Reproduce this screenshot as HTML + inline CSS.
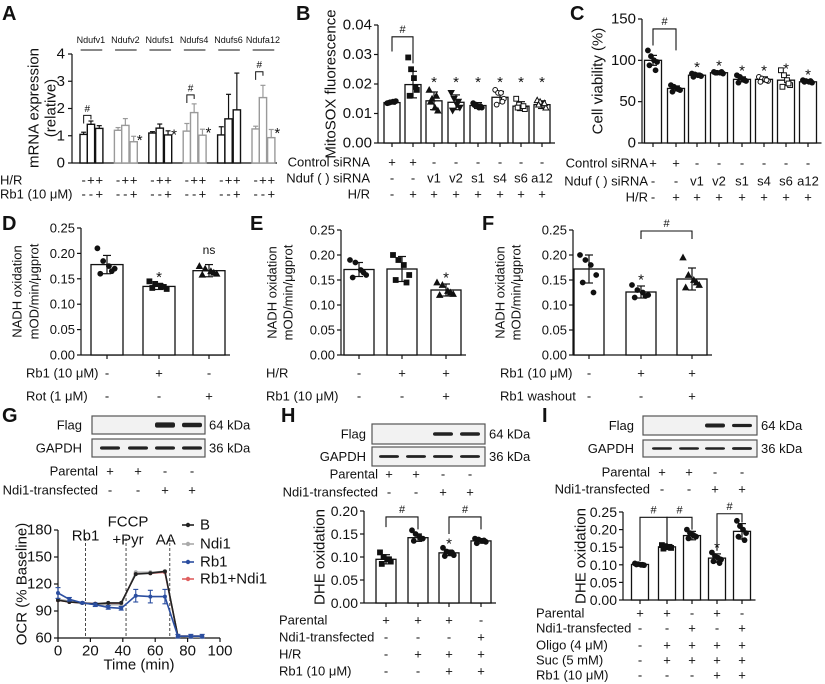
<!DOCTYPE html>
<html><head><meta charset="utf-8">
<style>
html,body{margin:0;padding:0;background:#fff;}
svg{display:block;font-family:"Liberation Sans",Arial,sans-serif;}
text{fill:#111;}
</style></head>
<body>
<svg id="fig" width="825" height="684" viewBox="0 0 825 684" xmlns="http://www.w3.org/2000/svg"></svg>
<script>
// ---------- DATA ----------
// Panel A
const aGenes = ['Ndufv1','Ndufv2','Ndufs1','Ndufs4','Ndufs6','Ndufa12'];
const aValues = [[1.05,1.42,1.27],[1.2,1.38,0.78],[1.1,1.28,1.03],[1.17,1.85,1.02],[1.03,1.62,1.95],[1.25,2.4,0.93]];
const aErrors = [[0.08,0.12,0.1],[0.1,0.25,0.2],[0.05,0.15,0.15],[0.28,0.32,0.22],[0.3,0.9,1.35],[0.1,0.45,0.3]];
const aTicks = [0,1,2,3,4];
const aHR = ['-','+','+'];
const aRb1 = ['-','-','+'];
// Panel B
const bCategories = ['ctrl','hr','v1','v2','s1','s4','s6','a12'];
const bValues = [0.0137,0.0198,0.0143,0.0138,0.0127,0.0155,0.0125,0.013];
const bErrors = [0.0005,0.0045,0.003,0.0025,0.001,0.002,0.0015,0.0013];
const bDots = [[.0135,.0138,.014,.0142,.0136,.0139],[.029,.025,.022,.018,.016,.019],[.018,.015,.012,.011,.014,.016],[.017,.015,.013,.012,.011,.014],[.0135,.013,.012,.012,.0128,.0125],[.018,.017,.017,.015,.013,.014],[.015,.013,.012,.0115,.012,.0125],[.0145,.014,.013,.012,.013,.0135]];
const bTicks = [0,0.01,0.02,0.03,0.04];
// Panel C
const cValues = [100,66,82,85,77,77,76,74];
const cErrors = [6,3,2,1,3,3,6,1];
const cDots = [[112,105,100,98,94,88],[70,68,66,64,62,65],[84,83,82,81,80,82],[86,85,85,84,85,86],[82,80,77,75,73,76],[80,78,77,75,74,76],[88,82,76,70,68,72],[76,75,74,73,74,75]];
const cTicks = [0,50,100,150];
// Panels D E F
const dValues = [0.178,0.135,0.166];
const dErrors = [0.018,0.006,0.012];
const dDots = [[0.21,0.185,0.175,0.17,0.16,0.165],[0.145,0.14,0.135,0.13,0.132,0.134],[0.175,0.17,0.165,0.16,0.158,0.162]];
const eValues = [0.171,0.172,0.130];
const eErrors = [0.014,0.025,0.012];
const eDots = [[0.19,0.185,0.17,0.16,0.155,0.165],[0.2,0.19,0.18,0.16,0.15,0.145],[0.145,0.14,0.128,0.122,0.12,0.125]];
const fValues = [0.172,0.126,0.152];
const fErrors = [0.028,0.012,0.022];
const fDots = [[0.2,0.19,0.18,0.16,0.145,0.125],[0.14,0.13,0.125,0.12,0.115,0.118],[0.195,0.16,0.15,0.14,0.135,0.145]];
const nadhTicks = [0,0.05,0.1,0.15,0.2,0.25];
// Panel H, I
const hValues = [0.095,0.142,0.109,0.135];
const hErrors = [0.01,0.008,0.006,0.005];
const hDots = [[0.11,0.1,0.095,0.09,0.085,0.095],[0.158,0.15,0.145,0.14,0.135,0.14],[0.12,0.112,0.108,0.104,0.102,0.11],[0.14,0.138,0.135,0.133,0.13,0.136]];
const hTicks = [0,0.05,0.1,0.15,0.2];
const iValues = [0.101,0.151,0.183,0.119,0.195];
const iErrors = [0.003,0.005,0.012,0.012,0.022];
const iDots = [[0.104,0.102,0.1,0.099,0.101,0.1],[0.156,0.153,0.15,0.148,0.146,0.151],[0.2,0.19,0.185,0.18,0.175,0.182],[0.135,0.125,0.12,0.115,0.11,0.105],[0.225,0.21,0.2,0.19,0.18,0.17]];
const iTicks = [0,0.05,0.1,0.15,0.2,0.25];
// Panel G OCR
const ocrTime = [0,7,15,23,31,39,48,57,66,74,82,89];
const ocrB = [102,100,99,98,99,99,131,132,134,62,62,62];
const ocrNdi1 = [103,101,99,97,97,97,133,133,134,62,61,61];
const ocrRb1 = [110,103,99,97,94,93,107,106,106,62,62,62];
const ocrRb1Ndi1 = [102,100,99,98,98,98,132,132,133,62,62,62];
const ocrRb1Err = [6,2,1,2,2,2,7,7,8,2,2,2];
const ocrXTicks = [0,20,40,60,80,100];
const ocrYTicks = [60,90,120,150,180];
const ocrEvents = [{t:17,label:'Rb1'},{t:42,label:'FCCP'},{t:69,label:'AA'}];

// ---------- HELPERS ----------
const NS='http://www.w3.org/2000/svg';
const svg=document.getElementById('fig');
function mk(tag, name, parent){
  const e=document.createElementNS(NS,tag);
  
  
  (parent||svg).appendChild(e);
  return e;
}
function setA(e,o){for(const k in o)e.setAttribute(k,o[k]);return e;}
function line(x1,y1,x2,y2,name,stroke,w,dash,parent){
  const l=mk('line',name,parent);
  setA(l,{x1,y1,x2,y2,stroke:stroke||'#111','stroke-width':w||1.2});
  if(dash)l.setAttribute('stroke-dasharray',dash);
  return l;
}
function txt(x,y,s,name,size,anchor,parent,extra){
  const t=mk('text',name,parent);
  setA(t,{x,y,'font-size':size||13,'text-anchor':anchor||'start','dominant-baseline':'central'});
  if(extra)setA(t,extra);
  t.textContent=s;return t;
}
function group(name){return mk('g',name);}
function marker(g,type,x,y,r){
  let e;
  const fill = type.startsWith('open')?'#fff':'#111';
  if(type.endsWith('circle')){e=mk('circle','data-dot',g);setA(e,{cx:x,cy:y,r:r});}
  else if(type.endsWith('square')){e=mk('rect','data-dot',g);setA(e,{x:x-r,y:y-r,width:2*r,height:2*r});}
  else if(type.endsWith('itri')){e=mk('polygon','data-dot',g);setA(e,{points:`${x-r-0.5},${y-r} ${x+r+0.5},${y-r} ${x},${y+r+0.5}`});}
  else {e=mk('polygon','data-dot',g);setA(e,{points:`${x-r-0.5},${y+r} ${x+r+0.5},${y+r} ${x},${y-r-0.5}`});}
  setA(e,{fill:fill,stroke:'#111','stroke-width':1});
}
const jitter=[-5,-2,1,4,-3.5,2.5];
function fmt(v,d){return v.toFixed(d);}

function barPanel(p){
  const g=group(p.name);
  const Y=v=>p.yBot-(v-p.vmin)/(p.vmax-p.vmin)*(p.yBot-p.yTop);
  line(p.ax,p.yTop,p.ax,p.yBot,'y-axis','#111',1.2,null,g);
  p.ticks.forEach(t=>{
    line(p.ax-4,Y(t),p.ax,Y(t),'y-tick','#111',1.2,null,g);
    txt(p.ax-6,Y(t),fmt(t,p.dec),'y-tick-label',p.tickFont,'end',g,p.tickStyle||null);
  });
  const last=p.centers[p.centers.length-1]+p.bw/2+5;
  line(p.ax,p.yBot,last,p.yBot,'x-axis','#111',1.2,null,g);
  p.ylabel.forEach((s,i)=>{
    const cy=(p.yTop+p.yBot)/2;
    txt(p.ylx[i],cy,s,'y-axis-title',p.yFont,'middle',g,{transform:`rotate(-90 ${p.ylx[i]} ${cy})`});
  });
  p.values.forEach((v,i)=>{
    const cx=p.centers[i];
    if(p.xTicks) line(cx,p.yBot,cx,p.yBot+4,'x-tick','#111',1.2,null,g);
    const r=mk('rect','bar-'+i,g);
    setA(r,{x:cx-p.bw/2,y:Y(v),width:p.bw,height:p.yBot-Y(v),fill:'#fff',stroke:'#111','stroke-width':1.3});
    const e=p.errs[i];
    line(cx,Y(v+e),cx,Y(v-e),'error-bar','#111',1.2,null,g);
    line(cx-4,Y(v+e),cx+4,Y(v+e),'error-cap','#111',1.2,null,g);
    line(cx-4,Y(v-e),cx+4,Y(v-e),'error-cap','#111',1.2,null,g);
    if(p.dots)p.dots[i].forEach((d,k)=>marker(g,p.markers[i],cx+jitter[k]*p.bw/30*1.8,Y(d),2.4));
    if(p.stars&&p.stars[i]){
      const sy=p.starAt!==undefined?Y(p.starAt):Y(v+e)-9;
      txt(cx,sy+3,'*','significance-star',p.starFont||15,'middle',g);
    }
  });
  (p.brackets||[]).forEach(b=>{
    const [i,j,lv,ld,rd]=b;
    const x1=p.centers[i],x2=p.centers[j];
    const pth=mk('path','significance-bracket',g);
    setA(pth,{d:`M${x1},${Y(ld)} V${Y(lv)} H${x2} V${Y(rd)}`,fill:'none',stroke:'#111','stroke-width':1.1});
    txt((x1+x2)/2,Y(lv)-7,'#','significance-hash',11,'middle',g);
  });
  (p.rows||[]).forEach(r=>{
    txt(p.rowX,r.y,r.label,'row-label',p.rowFont||13,p.rowAnchor||'end',g);
    r.marks.forEach((m,i)=>txt(p.centers[i],r.y,m,'row-mark',p.rowFont||13,'middle',g));
  });
  return g;
}
function panelLetter(x,y,s){txt(x,y,s,'panel-letter-'+s.toLowerCase(),20,'start',svg,{'font-weight':'bold'});}

// ---------- PANEL A ----------
(function(){
  const g=group('panel-a');
  const ax=72,yTop=54,yBot=163,vmax=4;
  const Y=v=>yBot-v/vmax*(yBot-yTop);
  line(ax,yTop,ax,yBot,'y-axis','#111',1.2,null,g);
  aTicks.forEach(t=>{line(ax-4,Y(t),ax,Y(t),'y-tick','#111',1.2,null,g);txt(ax-7,Y(t),String(t),'y-tick-label',15,'end',g);});
  line(ax,yBot,277,yBot,'x-axis','#111',1.2,null,g);
  txt(34,108,'mRNA expression','y-axis-title',15,'middle',g,{transform:'rotate(-90 34 108)'});
  txt(51,108,'(relative)','y-axis-title',15,'middle',g,{transform:'rotate(-90 51 108)'});
  const bw=7.3;
  aGenes.forEach((gn,gi)=>{
    const start=80+34.4*gi;
    const col=(gi%2===0)?'#111':'#9a9a9a';
    const cs=[start+bw/2,start+bw*1.5,start+bw*2.5+1];
    txt(cs[1],40,gn,'gene-label',9,'middle',g);
    line(cs[0]-3,50,cs[2]+3,50,'gene-underline','#111',1,null,g);
    aValues[gi].forEach((v,i)=>{
      const c=(gi===3&&i===1)?'#9a9a9a':col;
      const r=mk('rect','bar-'+gn+'-'+i,g);
      setA(r,{x:cs[i]-bw/2,y:Y(v),width:bw,height:yBot-Y(v),fill:'#fff',stroke:c,'stroke-width':1.4});
      const e=aErrors[gi][i];
      line(cs[i],Y(v),cs[i],Y(v+e),'error-bar',c,1.2,null,g);
      line(cs[i]-2.5,Y(v+e),cs[i]+2.5,Y(v+e),'error-cap',c,1.2,null,g);
      txt(cs[i],180,aHR[i],'hr-mark',13,'middle',g);
      txt(cs[i],194,aRb1[i],'rb1-mark',13,'middle',g);
    });
    if(gi===1||gi===2||gi===3||gi===5){
      const v=aValues[gi][2],e=aErrors[gi][2];
      txt(cs[2]+6,Y(v+e)+4,'*','significance-star',15,'middle',g);
    }
    if(gi===0||gi===3||gi===5){
      const lv=[1.75,2.5,3.35][gi===0?0:gi===3?1:2];
      const pth=mk('path','significance-bracket',g);
      setA(pth,{d:`M${cs[0]},${Y(lv-0.3)} V${Y(lv)} H${cs[1]} V${Y(lv-0.15)}`,fill:'none',stroke:'#111','stroke-width':1});
      txt((cs[0]+cs[1])/2,Y(lv)-6,'#','significance-hash',10,'middle',g);
    }
  });
  txt(0,180,'H/R','row-label',13,'start',g);
  txt(0,194,'Rb1 (10 μM)','row-label',13,'start',g);
})();
panelLetter(2,14,'A');

// ---------- PANEL B ----------
barPanel({name:'panel-b',ax:378,yTop:25,yBot:143,vmin:0,vmax:0.04,ticks:bTicks,dec:2,tickFont:15,
  centers:[392,413,434,456,478,500,521,542],bw:16,values:bValues,errs:bErrors,dots:bDots,
  markers:['circle','square','tri','itri','circle','opencircle','opensquare','opentri'],
  stars:[0,0,1,1,1,1,1,1],starAt:0.0215,starFont:15,xTicks:true,
  ylabel:['MitoSOX fluorescence'],ylx:[331],yFont:15,
  brackets:[[0,1,0.036,0.031,0.027]],
  rowX:370,rows:[{label:'Control siRNA',y:162,marks:['+','+','-','-','-','-','-','-']},
    {label:'Nduf ( ) siRNA',y:178,marks:['-','-','v1','v2','s1','s4','s6','a12']},
    {label:'H/R',y:194,marks:['-','+','+','+','+','+','+','+']}]});
panelLetter(296,14,'B');

// ---------- PANEL C ----------
barPanel({name:'panel-c',ax:642,yTop:19,yBot:143,vmin:0,vmax:150,ticks:cTicks,dec:0,tickFont:15,
  centers:[653,676,697,719,742,764,786,808],bw:17,values:cValues,errs:cErrors,dots:cDots,
  markers:['circle','circle','circle','circle','circle','opencircle','opensquare','circle'],
  stars:[0,0,1,1,1,1,1,1],xTicks:true,
  ylabel:['Cell viability (%)'],ylx:[598],yFont:15,
  brackets:[[0,1,138,118,112]],
  rowX:648,rows:[{label:'Control siRNA',y:163,marks:['+','+','-','-','-','-','-','-']},
    {label:'Nduf ( ) siRNA',y:181,marks:['-','-','v1','v2','s1','s4','s6','a12']},
    {label:'H/R',y:197,marks:['-','+','+','+','+','+','+','+']}]});
panelLetter(570,14,'C');

// ---------- PANELS D E F ----------
const nadhStyle={'font-family':'"Liberation Sans Narrow","Liberation Sans",sans-serif'};
barPanel({name:'panel-d',ax:81,yTop:228,yBot:355,vmin:0,vmax:0.25,ticks:nadhTicks,dec:2,tickFont:13,tickStyle:nadhStyle,
  centers:[107,159,209],bw:32,values:dValues,errs:dErrors,dots:dDots,markers:['circle','square','tri'],
  stars:[0,1,0],xTicks:true,ylabel:['NADH oxidation','mOD/min/μgprot'],ylx:[17,34],yFont:13,
  rowX:26,rowAnchor:'start',rows:[{label:'Rb1 (10 μM)',y:373,marks:['-','+','-']},{label:'Rot (1 μM)',y:396,marks:['-','-','+']}]});
txt(209,250,'ns','ns-label',12,'middle');
panelLetter(2,224,'D');
barPanel({name:'panel-e',ax:341,yTop:230,yBot:355,vmin:0,vmax:0.25,ticks:nadhTicks,dec:2,tickFont:13,tickStyle:nadhStyle,
  centers:[359,402,446],bw:30,values:eValues,errs:eErrors,dots:eDots,markers:['circle','square','tri'],
  stars:[0,0,1],xTicks:true,ylabel:['NADH oxidation','mOD/min/μgprot'],ylx:[272,288],yFont:13,
  rowX:266,rowAnchor:'start',rows:[{label:'H/R',y:373,marks:['-','+','+']},{label:'Rb1 (10 μM)',y:396,marks:['-','-','+']}]});
panelLetter(250,224,'E');
barPanel({name:'panel-f',ax:573,yTop:230,yBot:355,vmin:0,vmax:0.25,ticks:nadhTicks,dec:2,tickFont:13,tickStyle:nadhStyle,
  centers:[589,641,692],bw:30,values:fValues,errs:fErrors,dots:fDots,markers:['circle','circle','tri'],
  stars:[0,1,0],xTicks:true,ylabel:['NADH oxidation','mOD/min/μgprot'],ylx:[500,516],yFont:13,
  brackets:[[1,2,0.248,0.232,0.232]],
  rowX:500,rowAnchor:'start',rows:[{label:'Rb1 (10 μM)',y:373,marks:['-','+','+']},{label:'Rb1 washout',y:396,marks:['-','-','+']}]});
panelLetter(482,224,'F');

// ---------- BLOTS ----------
function blot(name,lx,x1,x2,y1,y2,lanes,bands,label,kda){
  const g=group(name);
  txt(lx,(y1+y2)/2,label,'blot-label',13,'end',g);
  const r=mk('rect','blot-box',g);
  setA(r,{x:x1,y:y1,width:x2-x1,height:y2-y1,fill:'#f2f2f2',stroke:'#555','stroke-width':1.2});
  lanes.forEach((lx2,i)=>{ if(bands[i]>0){const b=mk('rect','blot-band',g);
    setA(b,{x:lx2-10,y:(y1+y2)/2-2*bands[i],width:20,height:4*bands[i],rx:2,fill:'#222'});}});
  txt(x2+4,(y1+y2)/2,kda,'kda-label',13,'start',g);
}
function condRows(name,rx,lanes,rows){
  const g=group(name);
  rows.forEach(r=>{txt(rx,r.y,r.label,'row-label',13,'end',g);r.marks.forEach((m,i)=>txt(lanes[i],r.y,m,'row-mark',13,'middle',g));});
}
const gL=[110,138,165,192], hL=[389,416,443,470], iL=[662,689,715,742];
blot('g-flag-blot',82,92,205,416,434,gL,[0,0,1.3,1.1],'Flag','64 kDa');
blot('g-gapdh-blot',82,92,205,439,457,gL,[0.8,0.8,0.8,0.8],'GAPDH','36 kDa');
condRows('g-conditions',98,gL,[{label:'Parental',y:471,marks:['+','+','-','-']},{label:'Ndi1-transfected',y:490,marks:['-','-','+','+']}]);
panelLetter(2,416,'G');
blot('h-flag-blot',366,372,485,424,444,hL,[0,0,0.9,0.9],'Flag','64 kDa');
blot('h-gapdh-blot',366,372,485,447,466,hL,[0.7,0.7,0.7,0.7],'GAPDH','36 kDa');
condRows('h-conditions',378,hL,[{label:'Parental',y:474,marks:['+','+','-','-']},{label:'Ndi1-transfected',y:492,marks:['-','-','+','+']}]);
panelLetter(281,416,'H');
blot('i-flag-blot',634,643,757,416,435,iL,[0,0,1,0.8],'Flag','64 kDa');
blot('i-gapdh-blot',634,643,757,440,457,iL,[0.6,0.6,0.6,0.7],'GAPDH','36 kDa');
condRows('i-conditions',650,iL,[{label:'Parental',y:472,marks:['+','+','-','-']},{label:'Ndi1-transfected',y:489,marks:['-','-','+','+']}]);
panelLetter(542,416,'I');

// ---------- PANEL H ----------
barPanel({name:'panel-h',ax:364,yTop:511,yBot:603,vmin:0,vmax:0.2,ticks:hTicks,dec:2,tickFont:14,
  centers:[386,418,449,481],bw:20,values:hValues,errs:hErrors,dots:hDots,markers:['square','circle','circle','circle'],
  stars:[0,0,1,0],xTicks:true,ylabel:['DHE oxidation'],ylx:[320],yFont:15,
  brackets:[[0,1,0.187,0.165,0.16],[2,3,0.187,0.15,0.16]],
  rowX:279,rowAnchor:'start',rows:[{label:'Parental',y:620,marks:['+','+','+','-']},{label:'Ndi1-transfected',y:637,marks:['-','-','-','+']},
    {label:'H/R',y:654,marks:['-','+','+','+']},{label:'Rb1 (10 μM)',y:671,marks:['-','-','+','+']}]});

// ---------- PANEL I ----------
barPanel({name:'panel-i',ax:623,yTop:512,yBot:600,vmin:0,vmax:0.25,ticks:iTicks,dec:2,tickFont:14,
  centers:[640,667,692,717,742],bw:17,values:iValues,errs:iErrors,dots:iDots,markers:['circle','square','circle','circle','circle'],
  stars:[0,0,0,1,0],xTicks:true,ylabel:['DHE oxidation'],ylx:[581],yFont:15,
  brackets:[[0,1,0.235,0.11,0.16],[1,2,0.235,0.16,0.2],[3,4,0.245,0.14,0.22]],
  rowX:536,rowAnchor:'start',rows:[{label:'Parental',y:613,marks:['+','+','-','+','-']},{label:'Ndi1-transfected',y:628,marks:['-','-','+','-','+']},
    {label:'Oligo (4 μM)',y:645,marks:['-','+','+','+','+']},{label:'Suc (5 mM)',y:660,marks:['-','+','+','+','+']},
    {label:'Rb1 (10 μM)',y:675,marks:['-','-','-','+','+']}]});

// ---------- PANEL G OCR ----------
(function(){
  const g=group('panel-g-ocr');
  const X=t=>58+t/100*(220-58);
  const Y=v=>638-(v-60)/120*(638-530);
  line(58,530,58,638,'y-axis','#111',1.2,null,g);
  line(58,638,220,638,'x-axis','#111',1.2,null,g);
  ocrYTicks.forEach(t=>{line(54,Y(t),58,Y(t),'y-tick','#111',1.2,null,g);txt(52,Y(t),String(t),'y-tick-label',15,'end',g);});
  ocrXTicks.forEach(t=>{line(X(t),638,X(t),642,'x-tick','#111',1.2,null,g);txt(X(t),651,String(t),'x-tick-label',15,'middle',g);});
  txt(139,665,'Time (min)','x-axis-title',15,'middle',g);
  txt(22,584,'OCR (% Baseline)','y-axis-title',15,'middle',g,{transform:'rotate(-90 22 584)'});
  ocrEvents.forEach(ev=>line(X(ev.t),538,X(ev.t),638,'event-line','#333',0.9,'3,2',g));
  txt(X(17),536,'Rb1','event-label',15,'middle',g);
  txt(X(42)+2,522,'FCCP','event-label',15,'middle',g);
  txt(X(42)+2,540,'+Pyr','event-label',15,'middle',g);
  txt(X(69)-4,540,'AA','event-label',15,'middle',g);
  const series=[{n:'Rb1+Ndi1',d:ocrRb1Ndi1,c:'#e06060'},{n:'Ndi1',d:ocrNdi1,c:'#aaaaaa'},{n:'B',d:ocrB,c:'#222'},{n:'Rb1',d:ocrRb1,c:'#2b4ea0'}];
  series.forEach(s=>{
    const p=mk('polyline','series-'+s.n.toLowerCase().replace('+','-'),g);
    setA(p,{points:ocrTime.map((t,i)=>X(t)+','+Y(s.d[i])).join(' '),fill:'none',stroke:s.c,'stroke-width':1.6});
    ocrTime.forEach((t,i)=>{const c=mk('circle','series-point',g);setA(c,{cx:X(t),cy:Y(s.d[i]),r:2,fill:s.c});});
  });
  ocrTime.forEach((t,i)=>{
    const e=ocrRb1Err[i];
    line(X(t),Y(ocrRb1[i]-e),X(t),Y(ocrRb1[i]+e),'rb1-error-bar','#2b4ea0',1.1,null,g);
    line(X(t)-2.5,Y(ocrRb1[i]+e),X(t)+2.5,Y(ocrRb1[i]+e),'rb1-error-cap','#2b4ea0',1.1,null,g);
    line(X(t)-2.5,Y(ocrRb1[i]-e),X(t)+2.5,Y(ocrRb1[i]-e),'rb1-error-cap','#2b4ea0',1.1,null,g);
  });
  const leg=[{n:'B',c:'#222',y:525},{n:'Ndi1',c:'#aaaaaa',y:544},{n:'Rb1',c:'#2b4ea0',y:562},{n:'Rb1+Ndi1',c:'#e06060',y:579}];
  leg.forEach(l=>{
    const lg=mk('g','legend-entry',g);
    line(182,l.y,194,l.y,'legend-line',l.c,1.6,null,lg);
    const c=mk('circle','legend-marker',lg);setA(c,{cx:188,cy:l.y,r:2.2,fill:l.c});
    txt(200,l.y,l.n,'legend-label',15,'start',lg);
  });
})();
</script>
</body></html>
